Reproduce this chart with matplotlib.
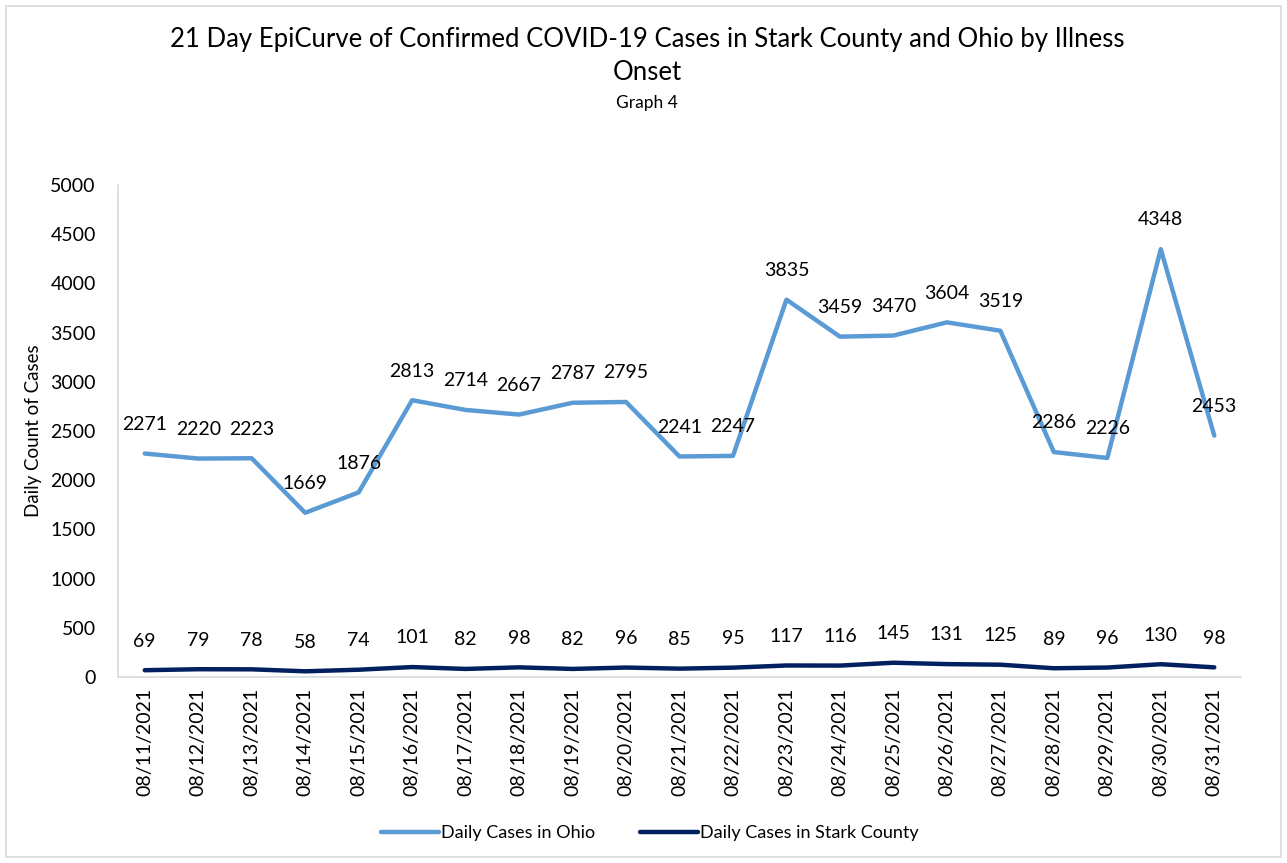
import matplotlib.pyplot as plt
from matplotlib import patches

dates = ['08/11/2021', '08/12/2021', '08/13/2021', '08/14/2021', '08/15/2021',
         '08/16/2021', '08/17/2021', '08/18/2021', '08/19/2021', '08/20/2021',
         '08/21/2021', '08/22/2021', '08/23/2021', '08/24/2021', '08/25/2021',
         '08/26/2021', '08/27/2021', '08/28/2021', '08/29/2021', '08/30/2021',
         '08/31/2021']
ohio = [2271, 2220, 2223, 1669, 1876, 2813, 2714, 2667, 2787, 2795, 2241,
        2247, 3835, 3459, 3470, 3604, 3519, 2286, 2226, 4348, 2453]
stark = [69, 79, 78, 58, 74, 101, 82, 98, 82, 96, 85, 95, 117, 116, 145,
         131, 125, 89, 96, 130, 98]
y_ticks = list(range(0, 5001, 500))

plt.rcParams['font.family'] = ['Lato', 'DejaVu Sans']

W, H = 1287, 863
fig = plt.figure(figsize=(W / 100, H / 100), dpi=100)
ax = fig.add_axes([118 / W, 1 - 677 / H, (1241 - 118) / W, (677 - 185) / H])

# light frame around whole chart
fig.patches.append(patches.Rectangle((6 / W, 6 / H), 1 - 12 / W, 1 - 12 / H,
                                     transform=fig.transFigure, fill=False,
                                     edgecolor='#D9D9D9', lw=1.2))

x = range(len(dates))
ohio_c = '#5B9BD5'
stark_c = '#002060'
ax.plot(x, ohio, color=ohio_c, lw=3.2, solid_capstyle='round', label='Daily Cases in Ohio')
ax.plot(x, stark, color=stark_c, lw=3.2, solid_capstyle='round', label='Daily Cases in Stark County')

for series in (ohio, stark):
    for i, v in enumerate(series):
        ax.annotate(str(v), (i, v), xytext=(0, 21), textcoords='offset points',
                    ha='center', va='center', fontsize=14, color='#000000')

ax.set_xlim(-0.5, len(dates) - 0.5)
ax.set_ylim(0, 5000)
ax.set_yticks(y_ticks)
ax.set_xticks(list(x))
ax.set_xticklabels(dates, rotation=90, fontsize=14)
ax.tick_params(axis='y', length=0, labelsize=14, pad=16)
ax.tick_params(axis='x', length=0, pad=8)
for s in ['top', 'right']:
    ax.spines[s].set_visible(False)
for s in ['left', 'bottom']:
    ax.spines[s].set_color('#D9D9D9')
    ax.spines[s].set_linewidth(1.2)
ax.set_ylabel('Daily Count of Cases', fontsize=13.5, labelpad=6)

fig.text(647 / W, 1 - 40 / H, '21 Day EpiCurve of Confirmed COVID-19 Cases in Stark County and Ohio by Illness',
         ha='center', va='center', fontsize=18.5)
fig.text(647 / W, 1 - 73 / H, 'Onset', ha='center', va='center', fontsize=18.5)
fig.text(647 / W, 1 - 103 / H, 'Graph 4', ha='center', va='center', fontsize=12.5)

fig.legend(loc='center', bbox_to_anchor=(650 / W, 1 - 833 / H), ncol=2, frameon=False,
           fontsize=13, handlelength=3.2, handletextpad=0.1, columnspacing=2.5)

fig.savefig('out.png', dpi=100)
